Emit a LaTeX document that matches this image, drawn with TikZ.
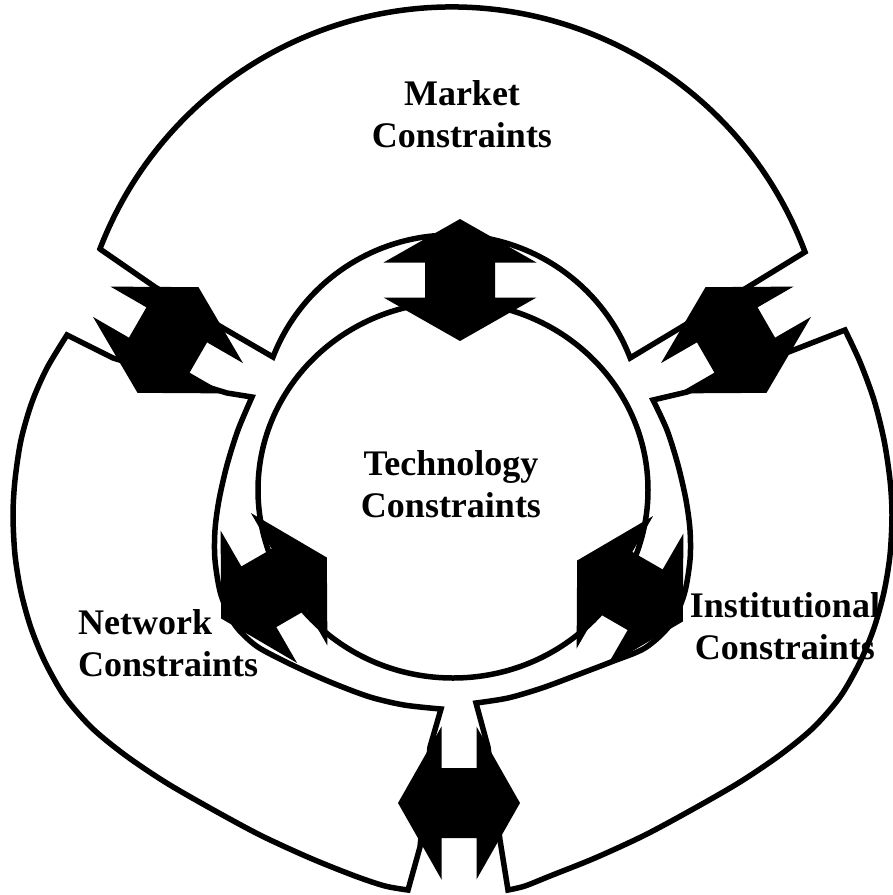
\documentclass[tikz,border=0pt]{standalone}
\usepackage{fontspec}
\setmainfont{Liberation Serif}
\begin{document}
\begin{tikzpicture}[x=1pt,y=-1pt,line join=miter,
  outl/.style={draw=black,line width=5.5pt},
  lab/.style={font=\fontsize{36}{42}\selectfont\bfseries,inner sep=0pt},
  dblarr/.pic={\fill[black] (-61,0) -- (-17.5,76.5) -- (-17.5,35) -- (17.5,35) -- (17.5,76.5) -- (61,0)
      -- (17.5,-76.5) -- (17.5,-35) -- (-17.5,-35) -- (-17.5,-76.5) -- cycle;}]
\useasboundingbox (0,0) rectangle (893,895);
% inner circle (Technology)
\draw[outl] (453,490) ellipse[x radius=195,y radius=188];
% Market sector
\draw[outl] (100,249) -- (155,287) -- (223,328) -- (273,357)
  arc[start angle=-158.7,end angle=-21,radius=191.5]
  -- (680,328) -- (748,287) -- (805,252)
  arc[start angle=-20.5,end angle=-159,radius=377] -- cycle;
% Network sector
\draw[outl] (67,335) -- (113,358) -- (227,393) -- (252,397)
  -- plot[smooth] coordinates {(252,397) (238,430) (227,465) (219,500) (215,530) (215,560) (221,595) (235,625) (255,645) (278,658) (305,671) (335,684) (370,697) (404,705) (441,709)}
  -- (430,747) -- (420,847) -- (408,890)
  -- plot[smooth] coordinates {(408,890) (385,886) (355,876) (310,858) (260,835) (210,808) (165,782) (125,755) (92,728) (65,697) (45,662) (31,628) (21,592) (15,555) (13,515) (15,480) (21,440) (32,402) (47,368) (67,335)}
  -- cycle;
% Institutional sector
\draw[outl] (845,330) -- (786,353) -- (687,392) -- (653,400)
  -- plot[smooth] coordinates {(653,400) (667,430) (678,465) (686,500) (690,530) (690,560) (684,595) (670,625) (645,648) (611,662) (577,675) (542,688) (508,698) (476,703)}
  -- (488,747) -- (500,840) -- (508,890)
  -- plot[smooth] coordinates {(508,890) (525,886) (550,876) (595,858) (645,835) (695,808) (740,782) (780,755) (813,728) (840,697) (860,662) (874,628) (884,592) (890,555) (892,515) (890,480) (884,440) (874,400) (860,362) (845,330)}
  -- cycle;
% double arrows
\pic[rotate=90] at (460,280) {dblarr};
\pic[rotate=30] at (274,588) {dblarr};
\pic[rotate=-30] at (630,591) {dblarr};
\pic[rotate=60] at (168,340) {dblarr};
\pic[rotate=-60] at (736,340) {dblarr};
\pic at (459,803) {dblarr};
% labels
\node[lab,align=center] (market) at (462,114) {Market\\Constraints};
\node[lab,align=center] (tech) at (451,484) {Technology\\Constraints};
\node[lab,align=left,anchor=west] (network) at (78,643) {Network\\Constraints};
\node[lab,align=center] (inst) at (785,626) {Institutional\\Constraints};
\end{tikzpicture}
\end{document}
